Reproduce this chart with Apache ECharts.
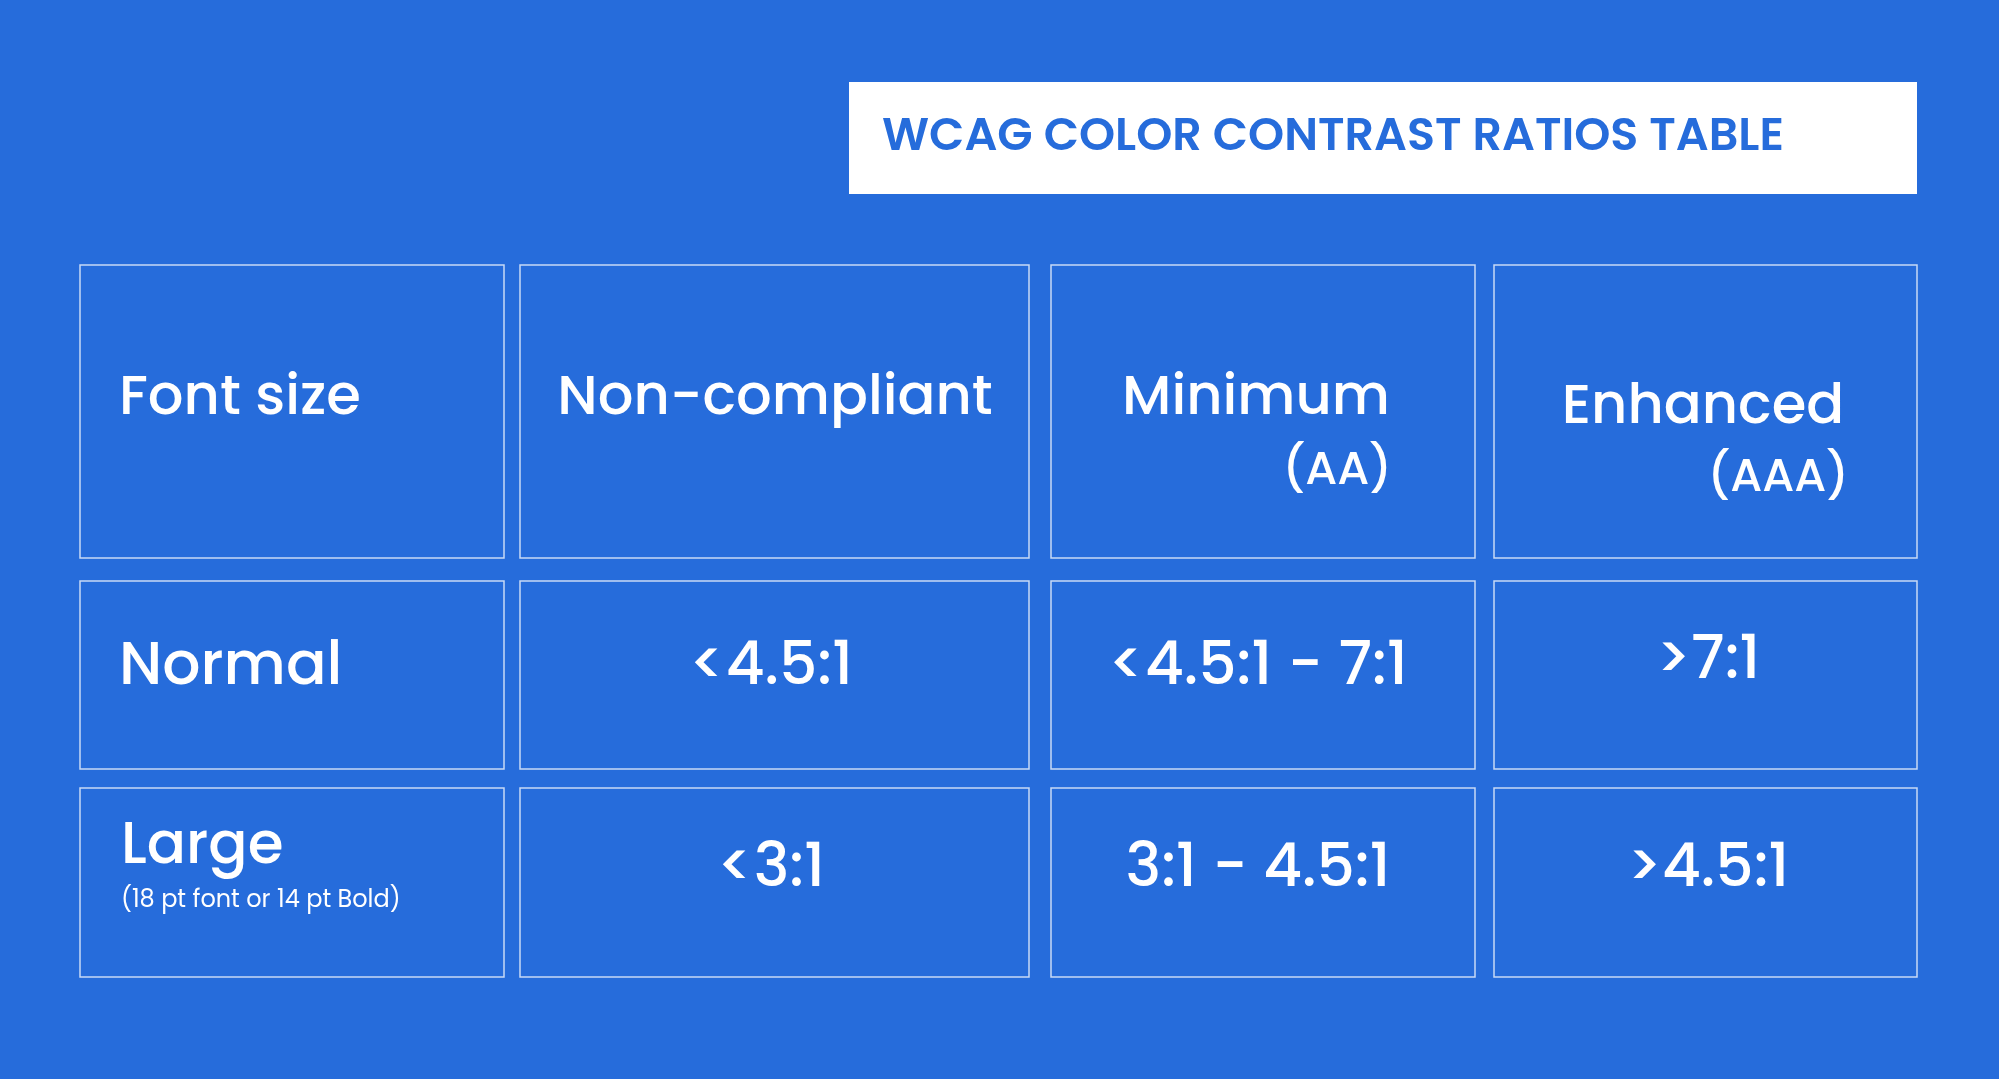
<!DOCTYPE html>
<html lang="en">
<head>
<meta charset="UTF-8">
<title>WCAG color contrast ratios table</title>
<script src="https://cdn.jsdelivr.net/npm/echarts@6/dist/echarts.min.js"></script>
<style>
  html, body { margin: 0; padding: 0; background: #266cdb; }
  #main { width: 1999px; height: 1079px; }
</style>
</head>
<body>
<div id="main"></div>
<script>
// table content
var title = 'WCAG COLOR CONTRAST RATIOS TABLE';
var headers = ['Font size', 'Non-compliant', 'Minimum', 'Enhanced'];
var headerSubs = ['', '', '(AA)', '(AAA)'];
var rowNames = ['Normal', 'Large'];
var rowNotes = ['', '(18 pt font or 14 pt Bold)'];
var normalRatios = ['<4.5:1', '<4.5:1 - 7:1', '>7:1'];
var largeRatios = ['<3:1', '3:1 - 4.5:1', '>4.5:1'];

// layout (pixels)
var colX = [[80, 504], [520, 1029], [1051, 1475], [1494, 1917]];
var rowY = [[265, 558], [581, 769], [788, 977]];
var font = 'Poppins, Inter, "Open Sans", sans-serif';

var chart = echarts.init(document.getElementById('main'));
var g = [];

// title box
g.push({ type: 'rect', shape: { x: 849, y: 82, width: 1068, height: 112 }, style: { fill: '#ffffff' } });
g.push({ type: 'text', x: 882, y: 138, style: { text: title, fill: '#266cdb', font: '600 46px ' + font, textVerticalAlign: 'middle' } });

// cell borders
rowY.forEach(function (r) {
    colX.forEach(function (c) {
        g.push({ type: 'rect', shape: { x: c[0], y: r[0], width: c[1] - c[0], height: r[1] - r[0] },
            style: { fill: 'none', stroke: 'rgba(255,255,255,0.75)', lineWidth: 1.5 } });
    });
});

function txt(s, x, y, size, align, weight) {
    g.push({ type: 'text', x: x, y: y, style: { text: s, fill: '#ffffff', font: (weight || '500') + ' ' + size + 'px ' + font,
        textAlign: align, textVerticalAlign: 'middle' } });
}

// header row
txt(headers[0], 119, 400, 56, 'left');
txt(headers[1], 775, 400, 56, 'center');
txt(headers[2], 1256, 400, 56, 'center');
txt(headerSubs[2], 1392, 472, 46, 'right');
txt(headers[3], 1703, 409, 56, 'center');
txt(headerSubs[3], 1849, 479, 46, 'right');

// body rows
var centers = [771, 1258, 1708];
txt(rowNames[0], 119, 669, 60, 'left');
normalRatios.forEach(function (s, i) { txt(s, centers[i], i === 2 ? 663 : 669, 60, 'center'); });
txt(rowNames[1], 121, 848, 58, 'left');
txt(rowNotes[1], 121, 901, 24, 'left', '400');
largeRatios.forEach(function (s, i) { txt(s, centers[i], 871, 60, 'center'); });

chart.setOption({ backgroundColor: '#266cdb', graphic: g });
</script>
</body>
</html>
